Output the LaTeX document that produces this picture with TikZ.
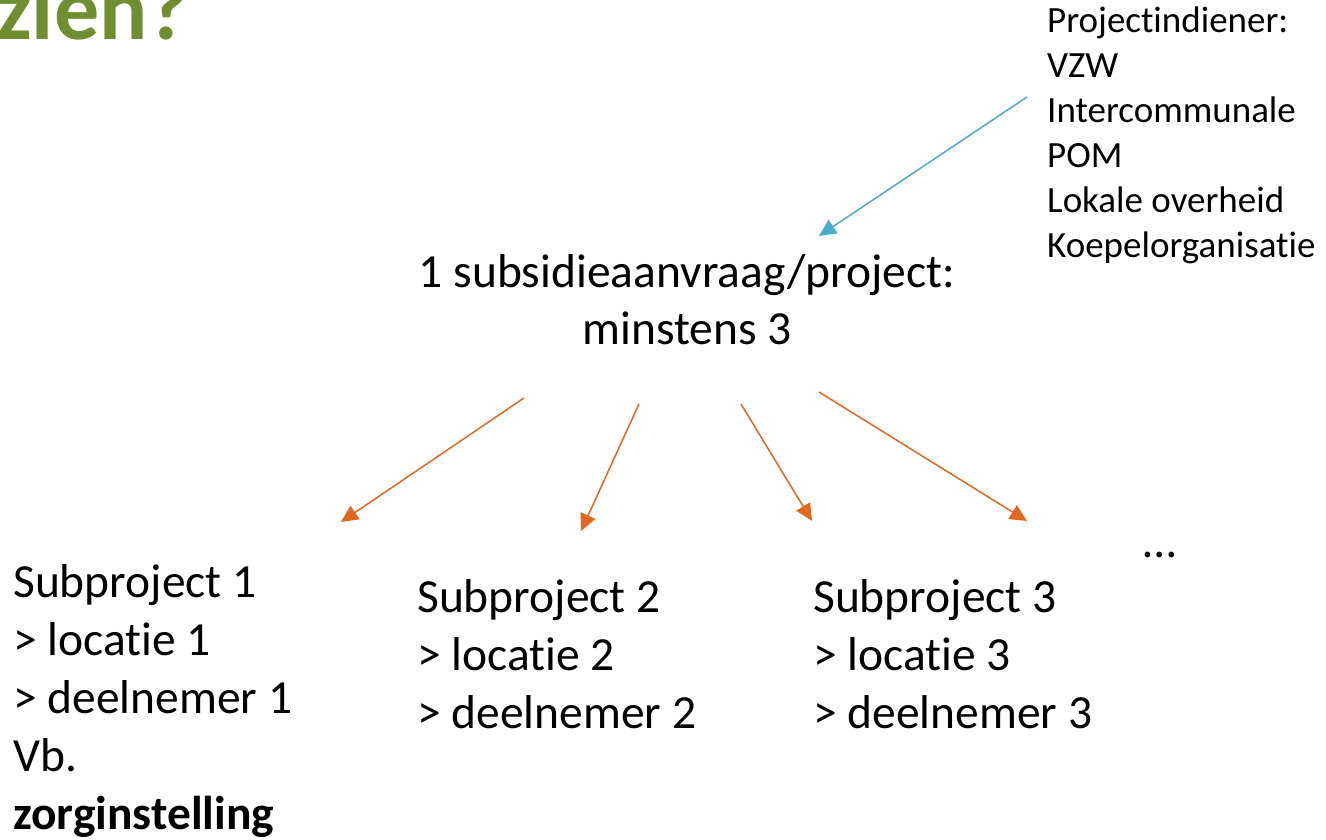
\documentclass[tikz,border=0pt]{standalone}
\usepackage{fontspec}
\setmainfont[Ligatures={NoCommon}]{Carlito}
\usetikzlibrary{arrows.meta}
\definecolor{titlegreen}{RGB}{112,141,48}
\definecolor{arrcyan}{RGB}{75,172,198}
\definecolor{arrorange}{RGB}{224,103,32}
\tikzset{
  bigtxt/.style={inner sep=0pt, anchor=base west, font=\fontsize{47.5}{58}\selectfont},
  smalltxt/.style={inner sep=0pt, anchor=base west, font=\fontsize{37}{45}\selectfont},
  cyanarrow/.style={draw=arrcyan, line width=1.5pt, -{Triangle[length=17pt,width=16pt]}},
  orangearrow/.style={draw=arrorange, line width=1.5pt, -{Triangle[length=17pt,width=16pt]}}
}
\begin{document}
\begin{tikzpicture}[x=1pt,y=-1pt]
\useasboundingbox (0,0) rectangle (1326,840);
\clip (0,0) rectangle (1326,840);
% title
\node[inner sep=0pt, anchor=base west, text=titlegreen, font=\fontsize{90}{96}\selectfont\bfseries] (title) at (-4,40) {zien?};
% top-right list
\node[smalltxt] (indiener) at (1047,33) {\begin{tabular}[t]{@{}l@{}}Projectindiener:\\VZW\\Intercommunale\\POM\\Lokale overheid\\Koepelorganisatie\end{tabular}};
% central text
\node[inner sep=0pt, anchor=base, font=\fontsize{47.5}{58}\selectfont] (aanvraag) at (687,287) {\begin{tabular}[t]{@{}c@{}}1 subsidieaanvraag/project:\\minstens 3\end{tabular}};
% subprojects
\node[bigtxt] (sub1) at (13,597) {\begin{tabular}[t]{@{}l@{}}Subproject 1\\> locatie 1\\> deelnemer 1\\Vb.\\\textbf{zorginstelling}\end{tabular}};
\node[bigtxt] (sub2) at (417,612) {\begin{tabular}[t]{@{}l@{}}Subproject 2\\> locatie 2\\> deelnemer 2\end{tabular}};
\node[bigtxt] (sub3) at (813,612) {\begin{tabular}[t]{@{}l@{}}Subproject 3\\> locatie 3\\> deelnemer 3\end{tabular}};
\node[bigtxt] (dots) at (1143,557) {…};
% arrow coordinates
\coordinate (c0s) at (1027,97);  \coordinate (c0e) at (819,236);
\coordinate (o1s) at (524,398);  \coordinate (o1e) at (341,522);
\coordinate (o2s) at (639,404);  \coordinate (o2e) at (581,531);
\coordinate (o3s) at (741,404);  \coordinate (o3e) at (812,521);
\coordinate (o4s) at (819,392);  \coordinate (o4e) at (1027,521);
\draw[cyanarrow] (c0s) -- (c0e);
\draw[orangearrow] (o1s) -- (o1e);
\draw[orangearrow] (o2s) -- (o2e);
\draw[orangearrow] (o3s) -- (o3e);
\draw[orangearrow] (o4s) -- (o4e);
\end{tikzpicture}
\end{document}
